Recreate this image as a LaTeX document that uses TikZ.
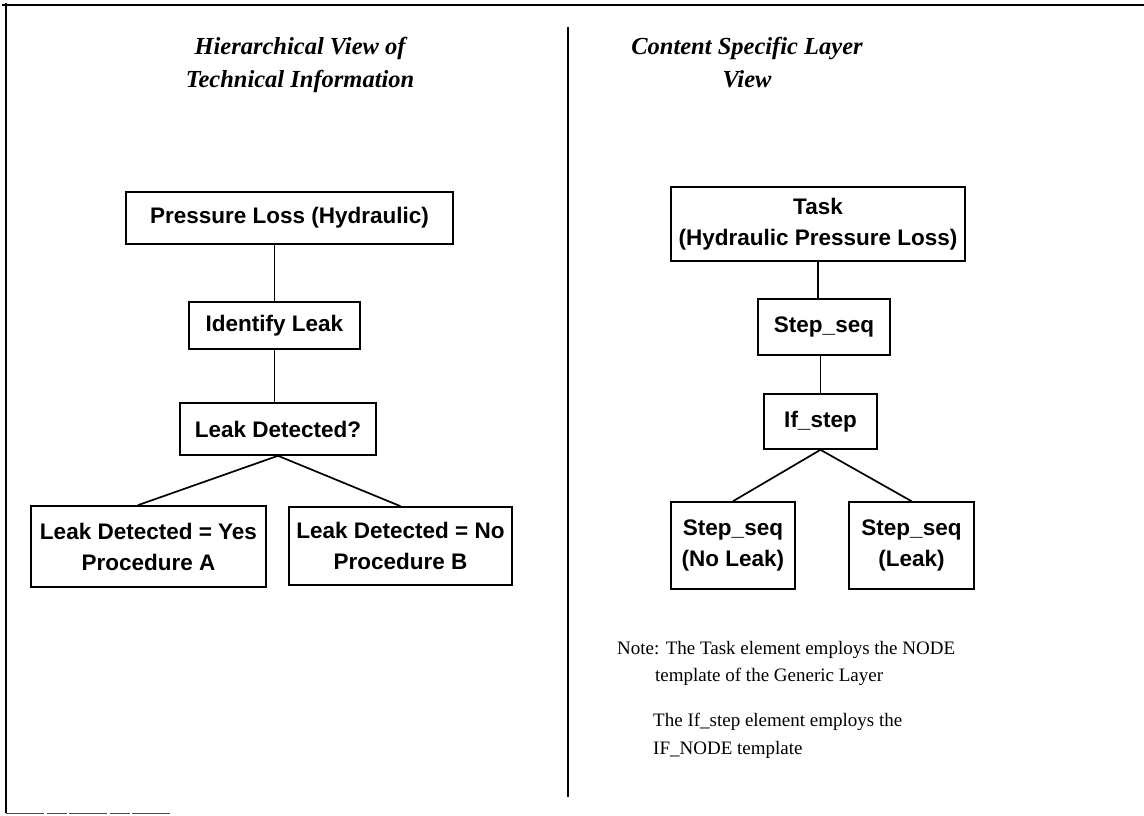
\documentclass[tikz,border=0pt]{standalone}
\usepackage{fontspec}
\usetikzlibrary{calc}
\setmainfont{Liberation Serif}
\newfontfamily\boxfamily{Liberation Sans}
\newfontfamily\headfamily{Liberation Serif}

\tikzset{
  frameline/.style={line width=2.6pt, black},
  divider/.style={line width=1.1pt, black},
  box/.style={draw, line width=1.6pt, rectangle, inner sep=0pt, align=center,
              font=\boxfamily\bfseries\fontsize{22.5}{31}\selectfont},
  link/.style={line width=1.7pt},
  heading/.style={font=\headfamily\bfseries\itshape\fontsize{24.5}{33}\selectfont, inner sep=0pt, anchor=base},
  notetext/.style={font=\fontsize{19}{27}\selectfont, inner sep=0pt, anchor=base west},
}

\begin{document}
\begin{tikzpicture}[x=1pt, y=-1pt]
\useasboundingbox (0,0) rectangle (1144,816);

% page frame and column divider
\draw[frameline] (2,5) -- (1144,5);
\draw[frameline] (6,3) -- (6,813);
\draw[line width=0.7pt, black!70, dash pattern=on 38pt off 3pt on 20pt off 2pt] (6,813) -- (170,813);
\draw[divider] (568,27) -- (568,797);

% headings
\node[heading] (hl1) at (300,55) {Hierarchical View of};
\node[heading] (hl2) at (300,88) {Technical Information};
\node[heading] (hr1) at (747,55) {Content Specific Layer};
\node[heading] (hr2) at (747,88) {View};

% left tree: hierarchical view
\node[box, minimum width=327pt, minimum height=52pt] (b1) at (289.5,218) {Pressure Loss (Hydraulic)};
\node[box, minimum width=171pt, minimum height=47pt] (b2) at (274.5,325.5) {Identify Leak};
\node[box, minimum width=196pt, minimum height=52pt] (b3) at (278,429) {Leak Detected?};
\node[box, minimum width=235pt, minimum height=81pt] (b4) at (148.5,546.5) {Leak Detected = Yes\\Procedure A};
\node[box, minimum width=223pt, minimum height=78pt] (b5) at (400.5,546) {Leak Detected = No\\Procedure B};

\draw[link] (b2.north) -- (b2.north |- b1.south);
\draw[link] (b2.south) -- (b2.south |- b3.north);
\draw[link] (b3.south) -- ($(b4.north west)!0.455!(b4.north east)$);
\draw[link] (b3.south) -- (b5.north);

% right tree: content specific layer view
\node[box, minimum width=294pt, minimum height=74pt] (t1) at (818,224) {Task\\(Hydraulic Pressure Loss)};
\node[box, minimum width=132pt, minimum height=56pt] (t2) at (824,327) {Step\_seq};
\node[box, minimum width=113pt, minimum height=55pt] (t3) at (820.5,421.5) {If\_step};
\node[box, minimum width=124pt, minimum height=87pt] (t4) at (733,545.5) {Step\_seq\\(No Leak)};
\node[box, minimum width=125pt, minimum height=87pt] (t5) at (911.5,545.5) {Step\_seq\\(Leak)};

\draw[link] (t1.south) -- (t1.south |- t2.north);
\draw[link] (t3.north) -- (t3.north |- t2.south);
\draw[link] (t3.south) -- (t4.north);
\draw[link] (t3.south) -- (t5.north);

% notes
\node[notetext] (n1) at (617,654) {Note: The Task element employs the NODE};
\node[notetext] (n2) at (655,681) {template of the Generic Layer};
\node[notetext] (n3) at (653,726) {The If\_step element employs the};
\node[notetext] (n4) at (653,754) {IF\_NODE template};
\end{tikzpicture}
\end{document}
